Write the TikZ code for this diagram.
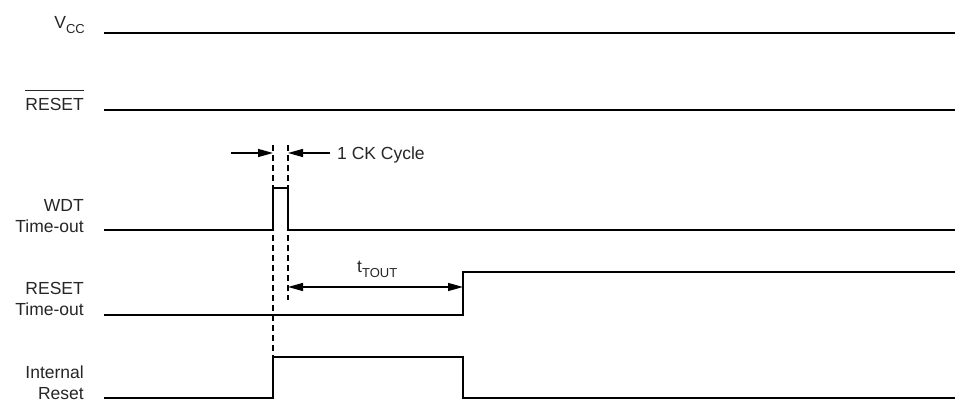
\documentclass[tikz,border=0pt]{standalone}
\usepackage{fontspec}
\setmainfont{Liberation Sans}
\usetikzlibrary{arrows.meta}
\newcommand\mysub[1]{\raisebox{-5pt}{\fontsize{13}{14}\selectfont #1}}
\begin{document}
\begin{tikzpicture}[x=1pt,y=-1pt,
  sig/.style={line width=2.8pt, line join=miter},
  guide/.style={line width=1.2pt, dash pattern=on 6pt off 4pt},
  dim/.style={line width=1.3pt, -{Triangle[length=15pt,width=8pt]}},
  txt/.style={inner sep=0pt, text=black!85, font=\fontsize{17.5}{20}\selectfont},
  lbl/.style={txt, anchor=base east}]
\useasboundingbox (0,0) rectangle (955,401);
% labels
\node[lbl] (vcc) at (85,29) {V\mysub{CC}};
\node[lbl] (rst) at (84,111) {\vbox{\hrule height 0.9pt\kern 8pt\hbox{RESET}}};
\node[lbl] (wdt1) at (84,211) {WDT};
\node[lbl] (wdt2) at (84,232) {Time-out};
\node[lbl] (rto1) at (84,294) {RESET};
\node[lbl] (rto2) at (84,315) {Time-out};
\node[lbl] (ir1) at (84,378) {Internal};
\node[lbl] (ir2) at (84,399) {Reset};
% signals
\draw[sig] (104,33) -- (955,33);
\draw[sig] (104,110) -- (955,110);
\draw[sig] (104,230) -- (273,230) -- (273,188) -- (288,188) -- (288,230) -- (955,230);
\draw[sig] (104,315) -- (463,315) -- (463,272) -- (955,272);
\draw[sig] (104,398) -- (273,398) -- (273,357) -- (463,357) -- (463,398) -- (955,398);
% guides
\coordinate (g1t) at (273,145);
\coordinate (g1b) at (273,357);
\coordinate (g2t) at (288,145);
\coordinate (g2b) at (288,300);
\draw[guide] (g1t) -- (g1b);
\draw[guide] (g2t) -- (g2b);
% CK cycle dimension
\coordinate (ckl) at (231,153);
\coordinate (ckla) at (273,153);
\coordinate (ckr) at (330,153);
\coordinate (ckra) at (288,153);
\draw[dim] (ckl) -- (ckla);
\draw[dim] (ckr) -- (ckra);
\node[txt, anchor=base west] (ck) at (337,159) {1 CK Cycle};
% tTOUT dimension
\coordinate (tl) at (288,287);
\coordinate (tr) at (463,287);
\draw[dim, {Triangle[length=15pt,width=8pt]}-{Triangle[length=15pt,width=8pt]}] (tl) -- (tr);
\node[txt, anchor=base west] (tt) at (357,272) {t\mysub{TOUT}};
\end{tikzpicture}
\end{document}
